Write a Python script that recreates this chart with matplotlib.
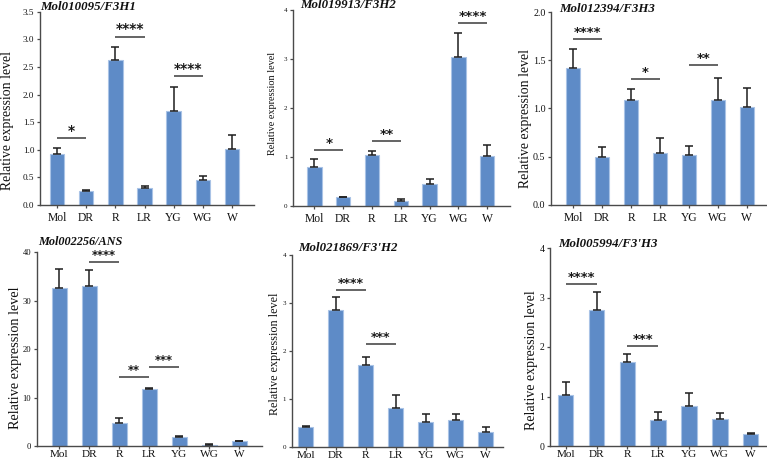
import matplotlib
matplotlib.use('Agg')
import matplotlib.pyplot as plt
import numpy as np

# ---------------- data ----------------
categories = ['Mol', 'DR', 'R', 'LR', 'YG', 'WG', 'W']

titles = ['Mol010095/F3H1', 'Mol019913/F3H2', 'Mol012394/F3H3',
          'Mol002256/ANS', "Mol021869/F3'H2", "Mol005994/F3'H3"]

f3h1_mean = [0.93, 0.26, 2.62, 0.31, 1.71, 0.46, 1.02]
f3h1_err = [0.10, 0.02, 0.24, 0.04, 0.43, 0.07, 0.24]
f3h1_sig = [(0, 1, 1.21, '*'), (2, 3, 3.05, '****'), (4, 5, 2.34, '****')]

f3h2_mean = [0.80, 0.17, 1.04, 0.10, 0.44, 3.05, 1.02]
f3h2_err = [0.15, 0.01, 0.08, 0.03, 0.11, 0.49, 0.23]
f3h2_sig = [(0, 1, 1.13, '*'), (2, 3, 1.33, '**'), (5, 6, 3.73, '****')]

f3h3_mean = [1.42, 0.49, 1.09, 0.54, 0.52, 1.09, 1.01]
f3h3_err = [0.20, 0.11, 0.11, 0.15, 0.09, 0.23, 0.20]
f3h3_sig = [(0, 1, 1.72, '****'), (2, 3, 1.30, '*'), (4, 5, 1.45, '**')]

ans_mean = [32.6, 33.0, 4.8, 11.75, 1.9, 0.27, 1.0]
ans_err = [3.9, 3.3, 1.1, 0.35, 0.2, 0.13, 0.08]
ans_sig = [(1, 2, 37.9, '****'), (2, 3, 14.2, '**'), (3, 4, 16.3, '***')]

f3h2b_mean = [0.41, 2.86, 1.71, 0.81, 0.53, 0.56, 0.32]
f3h2b_err = [0.02, 0.27, 0.16, 0.27, 0.16, 0.12, 0.09]
f3h2b_sig = [(1, 2, 3.26, '****'), (2, 3, 2.15, '***')]

f3h3b_mean = [1.04, 2.74, 1.70, 0.52, 0.80, 0.55, 0.25]
f3h3b_err = [0.25, 0.37, 0.15, 0.16, 0.27, 0.12, 0.02]
f3h3b_sig = [(0, 1, 3.28, '****'), (2, 3, 2.02, '***')]

y_tops = [3.5, 4, 2.0, 40, 4, 4]
y_steps = [0.5, 1, 0.5, 10, 1, 1]

means = [f3h1_mean, f3h2_mean, f3h3_mean, ans_mean, f3h2b_mean, f3h3b_mean]
errs = [f3h1_err, f3h2_err, f3h3_err, ans_err, f3h2b_err, f3h3b_err]
sigs = [f3h1_sig, f3h2_sig, f3h3_sig, ans_sig, f3h2b_sig, f3h3b_sig]

# ---------------- layout (pixels) ----------------
W, H = 767, 462
# left, right, top, bottom, xlim_left, xlim_right
boxes = [
    (40.0, 254.0, 11.7, 205.0, -0.58, 6.75),
    (293.0, 510.0, 10.3, 205.7, -0.74, 6.79),
    (551.0, 767.0, 12.0, 204.7, -0.77, 6.70),
    (36.7, 262.0, 252.3, 446.3, -0.75, 6.76),
    (291.7, 503.0, 254.7, 447.0, -0.47, 6.58),
    (550.0, 767.0, 248.0, 446.0, -0.51, 6.53),
]
title_pos = [(40, 10), (300, 8.3), (559, 11.7), (38, 245.3), (298, 250.7), (558, 246.7)]
title_size = [9.3, 9.3, 9.3, 8.8, 9.3, 9.3]
ylabel_x = [8, 272.5, 526, 16, 275, 532]
ylabel_yc = [121, 103.5, 119, 357.5, 354, 360]
ylabel_size = [9.9, 7.4, 9.9, 10.3, 8.7, 10.0]
ytick_size = [6.6, 5.0, 7.2, 6.2, 5.0, 7.0]
star_size = [10, 9.6, 9.4, 8.3, 9.2, 9.4]
tick_pad_x = [2.5, 2.5, 2.5, 0.4, 0.4, 0.4]
xtick_size = [8.4, 8.4, 8.4, 8.1, 8.1, 8.1]

serif = ['Liberation Serif', 'DejaVu Serif']
bar_color = '#5e8bc7'
bar_edge = '#a9c3e6'
spine_color = '#4a4a4a'

fig = plt.figure(figsize=(W / 100, H / 100), dpi=100)
fig.patch.set_facecolor('white')

x = np.arange(len(categories))
for k in range(6):
    l, r, t, b, xl, xr = boxes[k]
    ax = fig.add_axes([l / W, 1 - b / H, (r - l) / W, (b - t) / H])
    ax.patch.set_alpha(0)
    ax.bar(x, means[k], width=0.5, color=bar_color, edgecolor=bar_edge,
           linewidth=0.8, zorder=2)
    ax.errorbar(x, means[k], yerr=[np.zeros(len(x)), errs[k]], fmt='none',
                ecolor='#1e1e1e', elinewidth=1.1, capsize=3.2, capthick=1.1,
                zorder=3)
    ax.set_xlim(xl, xr)
    ax.set_ylim(0, y_tops[k])
    yt = np.arange(0, y_tops[k] + 1e-9, y_steps[k])
    ax.set_yticks(yt)
    if y_steps[k] < 1:
        ax.set_yticklabels(['%.1f' % v for v in yt], fontsize=ytick_size[k],
                           family=serif)
    else:
        ax.set_yticklabels(['%d' % v for v in yt], fontsize=ytick_size[k],
                           family=serif)
    ax.set_xticks(x)
    ax.set_xticklabels(categories, fontsize=xtick_size[k], family=serif)
    for side in ['top', 'right']:
        ax.spines[side].set_visible(False)
    for side in ['left', 'bottom']:
        ax.spines[side].set_color(spine_color)
        ax.spines[side].set_linewidth(1.0)
    ax.tick_params(axis='both', direction='out', length=2.5, width=0.9,
                   color=spine_color, labelcolor='#111111')
    ax.tick_params(axis='x', pad=tick_pad_x[k])
    ax.tick_params(axis='y', pad=1.5)

    # y label
    lab = ax.set_ylabel('Relative expression level', fontsize=ylabel_size[k],
                        family=serif, color='#111111')
    lab.set_va('center')
    ax.yaxis.set_label_coords((ylabel_x[k] - l) / (r - l),
                              (b - ylabel_yc[k]) / (b - t))

    # significance
    for (i, j, yv, s) in sigs[k]:
        ax.plot([x[i], x[j]], [yv, yv], color='#3a3a3a', lw=1.1,
                solid_capstyle='butt', zorder=4, clip_on=False)
        ax.annotate(s, xy=((x[i] + x[j]) / 2, yv), xytext=(0, 2.2),
                    textcoords='offset points', ha='center', va='baseline',
                    fontsize=star_size[k], family='DejaVu Sans',
                    fontweight='bold', color='#1a1a1a', annotation_clip=False)

    # title
    tx, ty = title_pos[k]
    fig.text(tx / W, 1 - ty / H, titles[k], ha='left', va='baseline',
             fontsize=title_size[k], family=serif, fontweight='bold',
             fontstyle='italic', color='#111111')

fig.savefig('out.png', dpi=100, facecolor='white')
